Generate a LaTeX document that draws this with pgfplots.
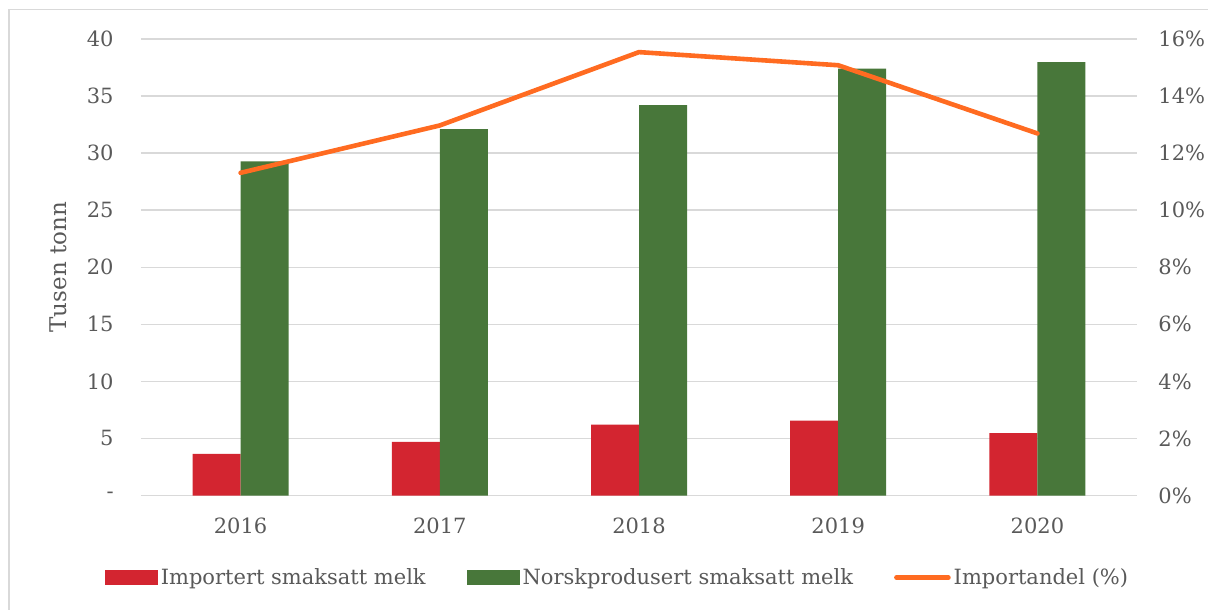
\documentclass[border=0pt]{standalone}
\usepackage{fontspec}
\setmainfont{DejaVu Serif}
\usepackage{pgfplots}
\pgfplotsset{compat=1.18}
\definecolor{txt}{HTML}{595959}
\definecolor{gridc}{HTML}{D9D9D9}
\definecolor{cred}{HTML}{D32530}
\definecolor{cgreen}{HTML}{48773A}
\definecolor{corange}{HTML}{FF6B21}
\begin{document}
\begin{tikzpicture}
\path[use as bounding box] (-70.5pt,-57pt) rectangle (533.5pt,247.75pt);
\draw[gridc, line width=0.8pt] (-66pt,-60pt) -- (-66pt,243pt) -- (540pt,243pt);
\pgfplotsset{
  every axis/.append style={
    at={(0,0)}, anchor=south west,
    scale only axis, width=498pt, height=228.25pt,
    xmin=-0.5, xmax=4.5,
    axis line style={draw=none},
    major tick length=0pt,
    font=\fontsize{10.5}{12}\selectfont,
    tick label style={text=txt, inner sep=0pt},
    /pgf/number format/assume math mode=true,
  }
}
\begin{axis}[
  ymin=0, ymax=40,
  xtick={0,1,2,3,4}, xticklabels={2016,2017,2018,2019,2020},
  xticklabel shift=11pt,
  ytick={0,5,10,15,20,25,30,35,40},
  yticklabels={-,5,10,15,20,25,30,35,40},
  yticklabel shift=13.5pt,
  ymajorgrids, grid style={gridc, line width=0.7pt},
  ylabel={Tusen tonn},
  every axis y label/.style={at={(rel axis cs:0,0.5)}, xshift=-41.5pt, rotate=90, anchor=center, text=txt, font=\fontsize{11.5}{13}\selectfont},
]
\addplot[ybar, bar width=24pt, bar shift=-12pt, fill=cred, draw=none] coordinates {(0,3.65) (1,4.70) (2,6.22) (3,6.57) (4,5.46)};
\addplot[ybar, bar width=24pt, bar shift=12pt, fill=cgreen, draw=none] coordinates {(0,29.27) (1,32.10) (2,34.20) (3,37.40) (4,37.97)};
\end{axis}
\begin{axis}[
  ymin=0, ymax=16,
  axis y line*=right, axis x line=none,
  ytick={0,2,4,6,8,10,12,14,16},
  yticklabel={\pgfmathprintnumber{\tick}\%},
  yticklabel style={anchor=west},
  yticklabel shift=10.5pt,
  legend columns=3,
  legend style={at={(0.479,-0.18)}, anchor=center, draw=none, fill=none, text=txt,
    font=\fontsize{10.5}{12}\selectfont,
    /tikz/every even column/.append style={column sep=19pt},
    inner sep=0pt, nodes={inner sep=1.5pt}},
]
\addlegendimage{legend image code/.code={\fill[cred] (0pt,-3.5pt) rectangle (26pt,3.5pt);}}
\addlegendentry{Importert smaksatt melk}
\addlegendimage{legend image code/.code={\fill[cgreen] (0pt,-3.5pt) rectangle (26pt,3.5pt);}}
\addlegendentry{Norskprodusert smaksatt melk}
\addplot[corange, line width=2.3pt, line join=round, line cap=round, mark=none,
  legend image code/.code={\draw[corange, line width=2.3pt, line cap=round] (0pt,0pt) -- (26pt,0pt);}]
  coordinates {(0,11.31) (1,12.97) (2,15.54) (3,15.08) (4,12.69)};
\addlegendentry{Importandel (\%)}
\end{axis}
\end{tikzpicture}
\end{document}
